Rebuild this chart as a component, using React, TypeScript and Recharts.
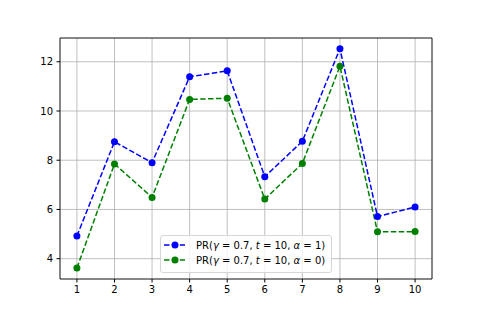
import React from 'react';
import { LineChart, Line, XAxis, YAxis, CartesianGrid, Legend, ReferenceArea } from 'recharts';

const steps = [1, 2, 3, 4, 5, 6, 7, 8, 9, 10];
const prAlpha1 = [4.92, 8.75, 7.9, 11.39, 11.63, 7.33, 8.77, 12.53, 5.71, 6.1];
const prAlpha0 = [3.62, 7.85, 6.49, 10.47, 10.52, 6.42, 7.87, 11.82, 5.09, 5.1];
const yTicks = [4, 6, 8, 10, 12];

const BLUE = '#0000ff';
const GREEN = '#008000';
const FONT = '"DejaVu Sans", sans-serif';

const data = steps.map((s, i) => ({ step: s, a1: prAlpha1[i], a0: prAlpha0[i] }));

const legendItems = [
  { color: BLUE, alpha: '1' },
  { color: GREEN, alpha: '0' },
];

const LegendBox = () => (
  <svg width={172} height={38} style={{ display: 'block' }}>
    <rect x={0.5} y={0.5} width={171} height={37} rx={2.5} fill="rgba(255,255,255,0.8)" stroke="#d6d6d6" />
    {legendItems.map((it, i) => {
      const y = 10 + i * 15;
      return (
        <g key={i}>
          <line x1={4} x2={25} y1={y} y2={y} stroke={it.color} strokeWidth={1.5} strokeDasharray="5.5 2.4" />
          <circle cx={15} cy={y} r={3.5} fill={it.color} />
          <text x={36} y={y + 3.6} fontFamily={FONT} fontSize={10} fill="#000">
            PR(<tspan fontStyle="italic">γ</tspan> = 0.7, <tspan fontStyle="italic">t</tspan> = 10,{' '}
            <tspan fontStyle="italic">α</tspan> = {it.alpha})
          </text>
        </g>
      );
    })}
  </svg>
);

export default function App() {
  const tick = { fontFamily: FONT, fontSize: 10, fill: '#000' };
  return (
    <div style={{ position: 'absolute', left: 0, top: 0, width: 480, height: 320, background: '#fff' }}>
      <LineChart width={480} height={320} data={data} margin={{ top: 38, right: 48, left: 0, bottom: 11 }}>
        <CartesianGrid stroke="#b0b0b0" strokeWidth={0.8} />
        <XAxis
          dataKey="step"
          type="number"
          domain={[0.55, 10.45]}
          ticks={steps}
          height={30}
          tick={tick}
          tickSize={3.5}
          tickMargin={3.5}
          stroke="#000"
          axisLine={false}
        />
        <YAxis
          type="number"
          domain={[3.175, 12.965]}
          ticks={yTicks}
          width={60}
          tick={tick}
          tickSize={3.5}
          tickMargin={3.5}
          stroke="#000"
          axisLine={false}
        />
        <ReferenceArea x1={0.55} x2={10.45} y1={3.175} y2={12.965} fill="none" stroke="#000" strokeWidth={0.8} />
        <Line
          dataKey="a1"
          stroke={BLUE}
          strokeWidth={1.5}
          strokeDasharray="5.5 2.4"
          dot={{ r: 3.5, fill: BLUE, stroke: 'none' }}
          activeDot={false}
          isAnimationActive={false}
        />
        <Line
          dataKey="a0"
          stroke={GREEN}
          strokeWidth={1.5}
          strokeDasharray="5.5 2.4"
          dot={{ r: 3.5, fill: GREEN, stroke: 'none' }}
          activeDot={false}
          isAnimationActive={false}
        />
        <Legend
          layout="horizontal"
          verticalAlign="middle"
          content={() => <LegendBox />}
          wrapperStyle={{ position: 'absolute', left: 160, top: 235, width: 172, height: 38 }}
        />
      </LineChart>
    </div>
  );
}
